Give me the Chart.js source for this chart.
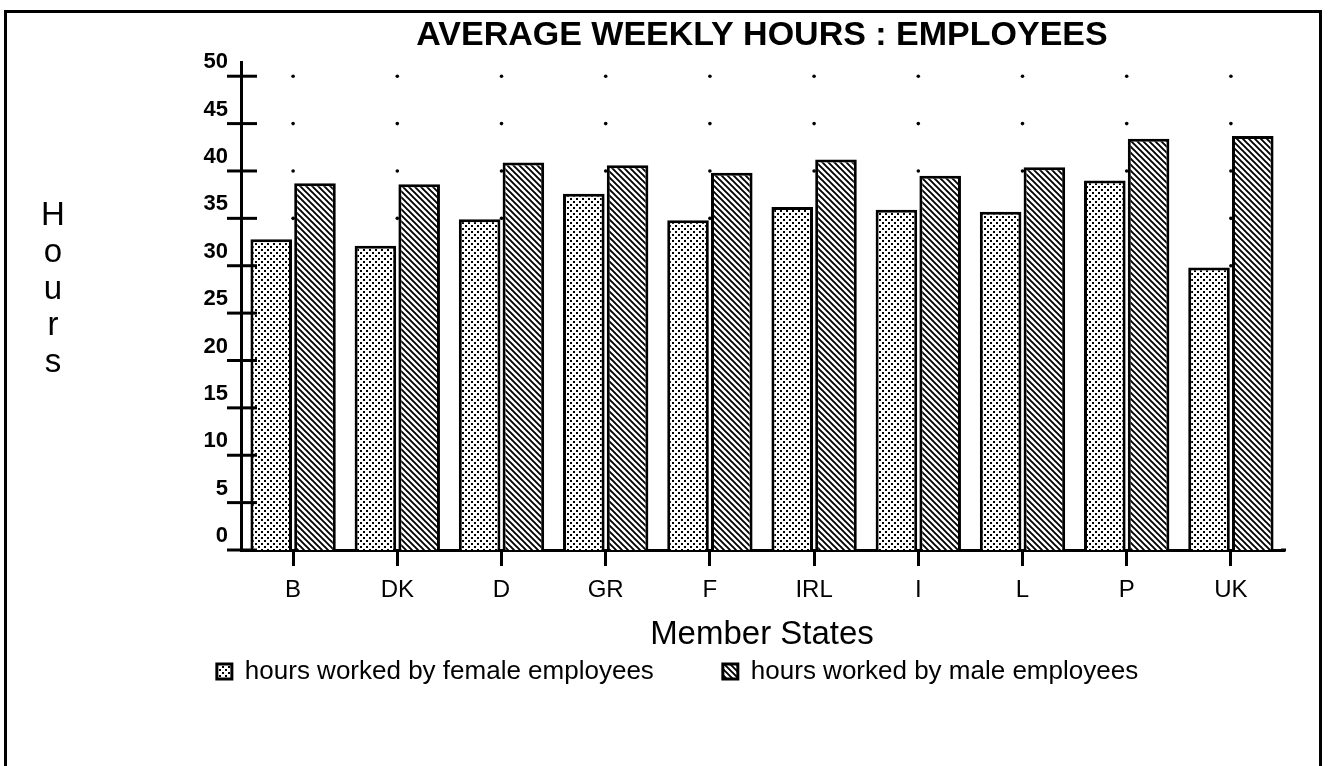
<!DOCTYPE html>
<html>
<head>
<meta charset="utf-8">
<script src="https://cdn.jsdelivr.net/npm/chart.js@4.4.0/dist/chart.umd.min.js"></script>
<style>
  html, body { margin: 0; padding: 0; background: #fff; overflow: hidden; }
  #frame { position: absolute; left: 4px; top: 10px; width: 1312px; height: 800px; border: 3px solid #000; }
  #chart { position: absolute; left: 0; top: 0; }
</style>
</head>
<body>
<div id="frame"></div>
<canvas id="chart" width="1332" height="766"></canvas>
<script>
/* ---------- data ---------- */
const memberStates = ["B", "DK", "D", "GR", "F", "IRL", "I", "L", "P", "UK"];
const femaleHours = [32.8, 32.1, 34.9, 37.6, 34.8, 36.2, 35.9, 35.7, 39.0, 29.8];
const maleHours = [38.7, 38.6, 40.9, 40.6, 39.8, 41.2, 39.5, 40.4, 43.4, 43.7];
const seriesLabels = ["hours worked by female employees", "hours worked by male employees"];
const chartTitle = "AVERAGE WEEKLY HOURS : EMPLOYEES";
const xAxisTitle = "Member States";
const yAxisTitle = "Hours";
const yTickStep = 5;
const yAxisMax = 51.5;

const FONT = '"Liberation Sans", Helvetica, Arial, sans-serif';
Chart.defaults.font.family = FONT;
Chart.defaults.color = "#000";

/* ---------- fill patterns ---------- */
function dotPattern() {
    const s = 6;
    const c = document.createElement("canvas");
    c.width = c.height = s;
    const g = c.getContext("2d");
    g.fillStyle = "#fff";
    g.fillRect(0, 0, s, s);
    g.fillStyle = "#000";
    g.fillRect(0, 0, 2, 2);
    g.fillRect(3, 3, 2, 2);
    return g.createPattern(c, "repeat");
}

function hatchPattern() {
    const s = 6;
    const c = document.createElement("canvas");
    c.width = c.height = s;
    const g = c.getContext("2d");
    g.fillStyle = "#fff";
    g.fillRect(0, 0, s, s);
    g.strokeStyle = "#000";
    g.lineWidth = 1.9;
    g.beginPath();
    g.moveTo(-1, -1); g.lineTo(s + 1, s + 1);
    g.moveTo(-1, s - 1); g.lineTo(1, s + 1);
    g.moveTo(s - 1, -1); g.lineTo(s + 1, 1);
    g.stroke();
    return g.createPattern(c, "repeat");
}

/* ---------- dots, crossing ticks, stacked y title ---------- */
const axisDecor = {
    id: "axisDecor",
    afterLayout(chart) {
        // legend sits right under the axis title
        chart.legend.top -= 65;
        chart.legend.bottom -= 65;
    },
    beforeDatasetsDraw(chart) {
        const { ctx, scales: { x, y } } = chart;
        ctx.save();
        ctx.fillStyle = "#000";
        y.ticks.forEach(t => {
            if (t.value === 0) return;
            const py = y.getPixelForValue(t.value);
            memberStates.forEach((_, i) => {
                if (t.value <= Math.min(femaleHours[i], maleHours[i])) return;
                ctx.beginPath();
                ctx.arc(x.getPixelForValue(i), py, 1.8, 0, Math.PI * 2);
                ctx.fill();
            });
        });
        ctx.restore();
    },
    afterDraw(chart) {
        const { ctx, chartArea, scales: { y } } = chart;
        ctx.save();
        ctx.strokeStyle = "#000";
        ctx.lineWidth = 3;
        y.ticks.forEach(t => {
            const py = y.getPixelForValue(t.value);
            ctx.beginPath();
            ctx.moveTo(chartArea.left - 14, py);
            ctx.lineTo(chartArea.left + 16, py);
            ctx.stroke();
        });
        // x axis runs a little past the last bar
        ctx.beginPath();
        ctx.moveTo(chartArea.right - 2, chartArea.bottom);
        ctx.lineTo(chartArea.right + 3, chartArea.bottom);
        ctx.stroke();

        // "Hours" written as stacked letters
        ctx.fillStyle = "#000";
        ctx.font = "33px " + FONT;
        ctx.textAlign = "center";
        ctx.textBaseline = "alphabetic";
        yAxisTitle.split("").forEach((ch, i) => {
            ctx.fillText(ch, 53, 225 + i * 36.8);
        });
        ctx.restore();
    }
};

/* ---------- chart ---------- */
new Chart(document.getElementById("chart").getContext("2d"), {
    type: "bar",
    data: {
        labels: memberStates,
        datasets: [
            {
                label: seriesLabels[0],
                data: femaleHours,
                backgroundColor: dotPattern(),
                borderColor: "#000",
                borderWidth: 3,
                categoryPercentage: 0.84,
                barPercentage: 0.95
            },
            {
                label: seriesLabels[1],
                data: maleHours,
                backgroundColor: hatchPattern(),
                borderColor: "#000",
                borderWidth: 3,
                categoryPercentage: 0.84,
                barPercentage: 0.95
            }
        ]
    },
    options: {
        responsive: false,
        animation: false,
        layout: { padding: { left: 72, right: 49, top: 0, bottom: 6.6 } },
        scales: {
            x: {
                offset: true,
                grid: {
                    display: true,
                    drawOnChartArea: false,
                    drawTicks: true,
                    tickLength: 16,
                    lineWidth: 3,
                    color: "#000",
                    offset: false
                },
                border: { display: true, color: "#000", width: 3 },
                ticks: {
                    color: "#000",
                    font: { family: '"Liberation Sans Narrow", ' + FONT, size: 24 },
                    padding: 10,
                    maxRotation: 0,
                    autoSkip: false
                },
                title: {
                    display: true,
                    text: xAxisTitle,
                    color: "#000",
                    font: { size: 33 },
                    padding: { top: 0, bottom: 0 }
                }
            },
            y: {
                min: 0,
                max: yAxisMax,
                afterFit(scale) { scale.width = 169; },
                grid: { display: false, drawOnChartArea: false, drawTicks: false },
                border: { display: true, color: "#000", width: 3 },
                ticks: {
                    stepSize: yTickStep,
                    includeBounds: false,
                    color: "#000",
                    font: { size: 22, weight: "bold" },
                    padding: 13,
                    labelOffset: -14
                }
            }
        },
        plugins: {
            title: {
                display: true,
                text: chartTitle,
                fullSize: false,
                color: "#000",
                font: { size: 34, weight: "bold" },
                padding: { top: 15.7, bottom: 5.5 }
            },
            legend: {
                position: "bottom",
                labels: {
                    boxWidth: 15,
                    boxHeight: 15,
                    padding: 69,
                    color: "#000",
                    font: { size: 26 }
                }
            },
            tooltip: { enabled: false }
        }
    },
    plugins: [axisDecor]
});
</script>
</body>
</html>
